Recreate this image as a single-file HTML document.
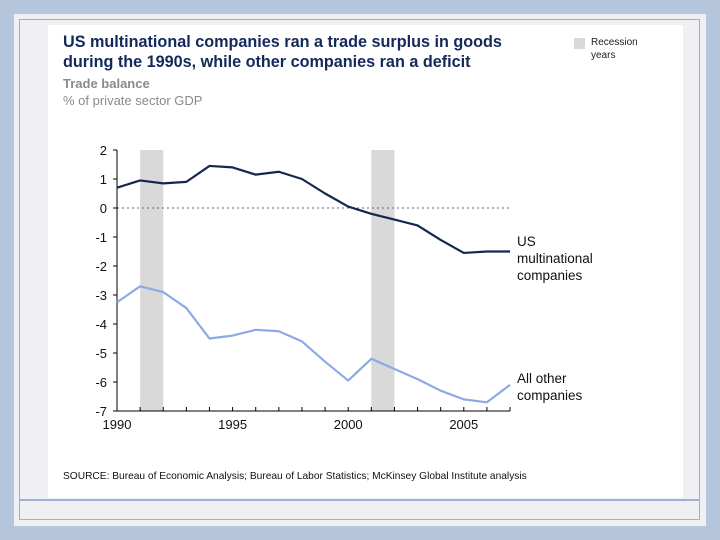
<!DOCTYPE html>
<html><head><meta charset="utf-8"><style>
body{margin:0;width:720px;height:540px;background:#b5c5db;position:relative;overflow:hidden;font-family:"Liberation Sans",Arial,sans-serif}
.abs{position:absolute}
</style></head><body>
<div class="abs" style="left:14px;top:14px;width:692px;height:512px;background:#f0f0f2"></div>
<div class="abs" style="left:19px;top:19px;width:679px;height:499px;border:1.5px solid #9db0d3;background:#f0f0f2"></div>
<div class="abs" style="left:19px;top:499px;width:681px;height:1.5px;background:#9db0d3"></div>
<div class="abs" style="left:48px;top:25px;width:635px;height:473px;background:#fff"></div>
<div class="abs" style="left:63px;top:32px;font-size:16.2px;font-weight:bold;color:#13295a;line-height:20px">US multinational companies ran a trade surplus in goods<br>during the 1990s, while other companies ran a deficit</div>
<div class="abs" style="left:63px;top:76px;font-size:13px;font-weight:bold;color:#8a8a8a">Trade balance</div>
<div class="abs" style="left:63px;top:93px;font-size:13px;color:#8a8a8a">% of private sector GDP</div>
<div class="abs" style="left:574px;top:38px;width:11px;height:11px;background:#d9d9d9"></div>
<div class="abs" style="left:591px;top:36px;font-size:10px;color:#222;line-height:13px">Recession<br>years</div>
<div class="abs" style="left:63px;top:471px;font-size:10.2px;color:#111">SOURCE: Bureau of Economic Analysis; Bureau of Labor Statistics; McKinsey Global Institute analysis</div>
<svg class="abs" style="left:0;top:0" width="720" height="540" id="chart"></svg>
<script>
const years=[1990,1991,1992,1993,1994,1995,1996,1997,1998,1999,2000,2001,2002,2003,2004,2005,2006,2007];
const usMnc=[0.7,0.95,0.85,0.9,1.45,1.4,1.15,1.25,1.0,0.5,0.05,-0.2,-0.4,-0.6,-1.1,-1.55,-1.5,-1.5];
const others=[-3.25,-2.7,-2.9,-3.45,-4.5,-4.4,-4.2,-4.25,-4.6,-5.3,-5.95,-5.2,-5.55,-5.9,-6.3,-6.6,-6.7,-6.1];
const yTicks=[2,1,0,-1,-2,-3,-4,-5,-6,-7];
const xTickLabels=[1990,1995,2000,2005];
const recessions=[[1991,1992],[2001,2002]];
const X=y=>117+(y-1990)*23.12;
const Y=v=>208-v*29;
const svg=document.getElementById('chart');
const NS='http://www.w3.org/2000/svg';
function mk(t,a){const e=document.createElementNS(NS,t);for(const k in a)e.setAttribute(k,a[k]);svg.appendChild(e);return e;}
recessions.forEach(r=>{
 const e=mk('rect',{x:X(r[0]),y:Y(2),width:X(r[1])-X(r[0]),height:Y(-7)-Y(2),fill:'#d9d9d9'});
 
 
});
const z=mk('line',{x1:X(1990),x2:X(2007),y1:Y(0),y2:Y(0),stroke:'#666','stroke-dasharray':'2,3','stroke-width':1});


const ya=mk('line',{x1:X(1990),x2:X(1990),y1:Y(2),y2:Y(-7),stroke:'#000','stroke-width':1});


const xa=mk('line',{x1:X(1990),x2:X(2007),y1:Y(-7),y2:Y(-7),stroke:'#000','stroke-width':1});


yTicks.forEach(v=>{
 mk('line',{x1:X(1990)-4,x2:X(1990),y1:Y(v),y2:Y(v),stroke:'#000'});
 const t=mk('text',{x:107,y:Y(v)+5,'text-anchor':'end','font-size':13,fill:'#111','font-family':'Liberation Sans, sans-serif'});
 t.textContent=v;
 
 
});
years.forEach(y=>{mk('line',{x1:X(y),x2:X(y),y1:Y(-7),y2:Y(-7)-4,stroke:'#000'});});
xTickLabels.forEach(y=>{
 const t=mk('text',{x:X(y),y:Y(-7)+18,'text-anchor':'middle','font-size':13,fill:'#111','font-family':'Liberation Sans, sans-serif'});
 t.textContent=y;
 
 
});
function line(vals,color,name){
 const p=mk('polyline',{points:vals.map((v,i)=>X(years[i])+','+Y(v)).join(' '),fill:'none',stroke:color,'stroke-width':2.2,'stroke-linejoin':'round'});
 
 
}
line(usMnc,'#14284f','us-multinational-line');
line(others,'#8fa9e6','other-companies-line');
function label(lines,x,y,name){
 const t=mk('text',{x:x,y:y,'font-size':13.5,fill:'#111','font-family':'Liberation Sans, sans-serif'});
 lines.forEach((s,i)=>{const ts=document.createElementNS(NS,'tspan');ts.setAttribute('x',x);ts.setAttribute('dy',i?17:0);ts.textContent=s;t.appendChild(ts);});
 
 
}
label(['US','multinational','companies'],517,246,'us-multinational-label');
label(['All other','companies'],517,383,'other-companies-label');
</script>
</body></html>
